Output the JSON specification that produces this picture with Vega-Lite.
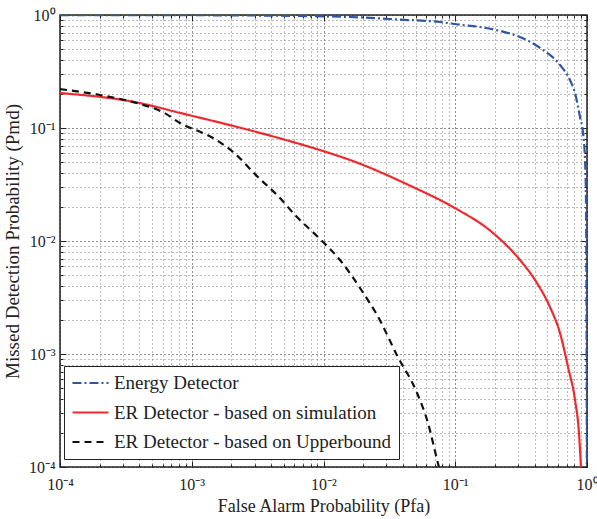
{
  "$schema": "https://vega.github.io/schema/vega-lite/v6.json",
  "width": 527,
  "height": 452,
  "autosize": {"type": "none"},
  "padding": {"left": 60, "top": 15, "right": 10, "bottom": 52},
  "background": "white",
  "config": {
    "view": {"stroke": "#222", "strokeWidth": 1.5},
    "font": "Liberation Serif"
  },
  "data": {
    "values": [
      {"series": "Energy Detector", "x": 0.0001, "y": 0.999},
      {"series": "Energy Detector", "x": 0.00116, "y": 0.995},
      {"series": "Energy Detector", "x": 0.00664, "y": 0.98},
      {"series": "Energy Detector", "x": 0.0159, "y": 0.96},
      {"series": "Energy Detector", "x": 0.0381, "y": 0.91},
      {"series": "Energy Detector", "x": 0.0766, "y": 0.867},
      {"series": "Energy Detector", "x": 0.1086, "y": 0.82},
      {"series": "Energy Detector", "x": 0.154, "y": 0.783},
      {"series": "Energy Detector", "x": 0.219, "y": 0.722},
      {"series": "Energy Detector", "x": 0.31, "y": 0.639},
      {"series": "Energy Detector", "x": 0.44, "y": 0.511},
      {"series": "Energy Detector", "x": 0.624, "y": 0.361},
      {"series": "Energy Detector", "x": 0.743, "y": 0.266},
      {"series": "Energy Detector", "x": 0.811, "y": 0.204},
      {"series": "Energy Detector", "x": 0.885, "y": 0.125},
      {"series": "Energy Detector", "x": 0.933, "y": 0.0903},
      {"series": "Energy Detector", "x": 0.966, "y": 0.0521},
      {"series": "Energy Detector", "x": 0.983, "y": 0.0231},
      {"series": "Energy Detector", "x": 0.991, "y": 0.003},
      {"series": "Energy Detector", "x": 0.998, "y": 0.0001},
      {"series": "ER Detector - based on simulation", "x": 0.0001, "y": 0.204},
      {"series": "ER Detector - based on simulation", "x": 0.000405, "y": 0.166},
      {"series": "ER Detector - based on simulation", "x": 0.000815, "y": 0.136},
      {"series": "ER Detector - based on simulation", "x": 0.00195, "y": 0.106},
      {"series": "ER Detector - based on simulation", "x": 0.00467, "y": 0.081},
      {"series": "ER Detector - based on simulation", "x": 0.0094, "y": 0.0638},
      {"series": "ER Detector - based on simulation", "x": 0.0159, "y": 0.0521},
      {"series": "ER Detector - based on simulation", "x": 0.0478, "y": 0.03},
      {"series": "ER Detector - based on simulation", "x": 0.0961, "y": 0.02},
      {"series": "ER Detector - based on simulation", "x": 0.193, "y": 0.0118},
      {"series": "ER Detector - based on simulation", "x": 0.31, "y": 0.00679},
      {"series": "ER Detector - based on simulation", "x": 0.417, "y": 0.00425},
      {"series": "ER Detector - based on simulation", "x": 0.523, "y": 0.00261},
      {"series": "ER Detector - based on simulation", "x": 0.624, "y": 0.00153},
      {"series": "ER Detector - based on simulation", "x": 0.718, "y": 0.000767},
      {"series": "ER Detector - based on simulation", "x": 0.811, "y": 0.000392},
      {"series": "ER Detector - based on simulation", "x": 0.869, "y": 0.0002},
      {"series": "ER Detector - based on simulation", "x": 0.9, "y": 0.0001},
      {"series": "ER Detector - based on Upperbound", "x": 0.0001, "y": 0.221},
      {"series": "ER Detector - based on Upperbound", "x": 0.000201, "y": 0.196},
      {"series": "ER Detector - based on Upperbound", "x": 0.000405, "y": 0.163},
      {"series": "ER Detector - based on Upperbound", "x": 0.000605, "y": 0.138},
      {"series": "ER Detector - based on Upperbound", "x": 0.000815, "y": 0.1107},
      {"series": "ER Detector - based on Upperbound", "x": 0.00145, "y": 0.0816},
      {"series": "ER Detector - based on Upperbound", "x": 0.00206, "y": 0.0613},
      {"series": "ER Detector - based on Upperbound", "x": 0.00318, "y": 0.0368},
      {"series": "ER Detector - based on Upperbound", "x": 0.00444, "y": 0.0255},
      {"series": "ER Detector - based on Upperbound", "x": 0.00629, "y": 0.0163},
      {"series": "ER Detector - based on Upperbound", "x": 0.00908, "y": 0.01084},
      {"series": "ER Detector - based on Upperbound", "x": 0.01334, "y": 0.00679},
      {"series": "ER Detector - based on Upperbound", "x": 0.0196, "y": 0.00361},
      {"series": "ER Detector - based on Upperbound", "x": 0.0255, "y": 0.00221},
      {"series": "ER Detector - based on Upperbound", "x": 0.0367, "y": 0.00094},
      {"series": "ER Detector - based on Upperbound", "x": 0.0513, "y": 0.000452},
      {"series": "ER Detector - based on Upperbound", "x": 0.0621, "y": 0.000245},
      {"series": "ER Detector - based on Upperbound", "x": 0.0739, "y": 0.000108},
      {"series": "ER Detector - based on Upperbound", "x": 0.0752, "y": 0.0001}
    ]
  },
  "resolve": {"axis": {"x": "independent", "y": "independent"}},
  "layer": [
    {
      "mark": {"type": "line", "strokeWidth": 2.2, "clip": true, "interpolate": "monotone"},
      "encoding": {
        "x": {
          "field": "x", "type": "quantitative",
          "scale": {"type": "log", "domain": [0.0001, 1], "nice": false},
          "axis": {
            "orient": "bottom",
            "title": "False Alarm Probability (Pfa)",
            "titleFont": "Liberation Serif", "titleFontSize": 18, "titleFontWeight": "normal", "titleColor": "#222",
            "titlePadding": 2,
            "values": [0.0001,0.0002,0.0003,0.0004,0.0005,0.0006,0.0007,0.0008,0.0009,0.001,0.002,0.003,0.004,0.005,0.006,0.007,0.008,0.009,0.01,0.02,0.03,0.04,0.05,0.06,0.07,0.08,0.09,0.1,0.2,0.3,0.4,0.5,0.6,0.7,0.8,0.9,1],
            "labelExpr": "abs(log(datum.value)/LN10 - round(log(datum.value)/LN10)) < 0.000001 ? ('10' + ['⁰','⁻¹','⁻²','⁻³','⁻⁴'][-round(log(datum.value)/LN10)]) : ''",
            "labelFont": "Liberation Serif", "labelFontSize": 16, "labelColor": "#222",
            "labelPadding": 15, "labelFlush": false, "labelOverlap": false,
            "grid": true,
            "gridDash": [1, 3],
            "gridColor": {"condition": {"test": "abs(log(datum.value)/LN10 - round(log(datum.value)/LN10)) < 0.000001", "value": "#222"}, "value": "#777"},
            "gridWidth": 1,
            "ticks": true,
            "tickColor": "#222",
            "tickSize": {"condition": {"test": "abs(log(datum.value)/LN10 - round(log(datum.value)/LN10)) < 0.000001", "value": -6}, "value": -3},
            "domain": false
          }
        },
        "y": {
          "field": "y", "type": "quantitative",
          "scale": {"type": "log", "domain": [0.0001, 1], "nice": false},
          "axis": {
            "orient": "left",
            "title": "Missed Detection Probability (Pmd)",
            "titleFont": "Liberation Serif", "titleFontSize": 19, "titleFontWeight": "normal", "titleColor": "#222",
            "titlePadding": 6,
            "values": [0.0001,0.0002,0.0003,0.0004,0.0005,0.0006,0.0007,0.0008,0.0009,0.001,0.002,0.003,0.004,0.005,0.006,0.007,0.008,0.009,0.01,0.02,0.03,0.04,0.05,0.06,0.07,0.08,0.09,0.1,0.2,0.3,0.4,0.5,0.6,0.7,0.8,0.9,1],
            "labelExpr": "abs(log(datum.value)/LN10 - round(log(datum.value)/LN10)) < 0.000001 ? ('10' + ['⁰','⁻¹','⁻²','⁻³','⁻⁴'][-round(log(datum.value)/LN10)]) : ''",
            "labelFont": "Liberation Serif", "labelFontSize": 16, "labelColor": "#222",
            "labelPadding": 11, "labelFlush": false, "labelOverlap": false,
            "grid": true,
            "gridDash": [1, 3],
            "gridColor": {"condition": {"test": "abs(log(datum.value)/LN10 - round(log(datum.value)/LN10)) < 0.000001", "value": "#222"}, "value": "#777"},
            "gridWidth": 1,
            "ticks": true,
            "tickColor": "#222",
            "tickSize": {"condition": {"test": "abs(log(datum.value)/LN10 - round(log(datum.value)/LN10)) < 0.000001", "value": -6}, "value": -3},
            "domain": false
          }
        },
        "color": {
          "field": "series", "type": "nominal",
          "scale": {
            "domain": ["Energy Detector", "ER Detector - based on simulation", "ER Detector - based on Upperbound"],
            "range": ["#2f55a8", "#ee2a2e", "#111111"]
          },
          "legend": {
            "title": null,
            "orient": "none",
            "legendX": 4,
            "legendY": 351,
            "fillColor": "white",
            "strokeColor": "#222",
            "padding": 7,
            "symbolType": "stroke",
            "symbolSize": 1296,
            "symbolStrokeWidth": 2.2,
            "clipHeight": 20,
            "labelFont": "Liberation Serif",
            "labelFontSize": 19,
            "labelColor": "#222",
            "labelLimit": 400,
            "labelOffset": 4,
            "rowPadding": 9.5
          }
        },
        "strokeDash": {
          "field": "series", "type": "nominal",
          "scale": {
            "domain": ["Energy Detector", "ER Detector - based on simulation", "ER Detector - based on Upperbound"],
            "range": [[9, 3, 2, 3], [1, 0], [7, 5]]
          },
          "legend": {
            "title": null,
            "orient": "none",
            "legendX": 4,
            "legendY": 351,
            "fillColor": "white",
            "strokeColor": "#222",
            "padding": 7,
            "symbolType": "stroke",
            "symbolSize": 1296,
            "symbolStrokeWidth": 2.2,
            "clipHeight": 20,
            "labelFont": "Liberation Serif",
            "labelFontSize": 19,
            "labelColor": "#222",
            "labelLimit": 400,
            "labelOffset": 4,
            "rowPadding": 9.5
          }
        }
      }
    },
    {
      "mark": {"type": "line", "strokeOpacity": 0, "clip": true},
      "encoding": {
        "x": {
          "field": "x", "type": "quantitative",
          "scale": {"type": "log", "domain": [0.0001, 1], "nice": false},
          "axis": {
            "orient": "top", "title": null, "labels": false, "grid": false, "domain": false,
            "values": [0.0001,0.0002,0.0003,0.0004,0.0005,0.0006,0.0007,0.0008,0.0009,0.001,0.002,0.003,0.004,0.005,0.006,0.007,0.008,0.009,0.01,0.02,0.03,0.04,0.05,0.06,0.07,0.08,0.09,0.1,0.2,0.3,0.4,0.5,0.6,0.7,0.8,0.9,1],
            "tickColor": "#222",
            "tickSize": {"condition": {"test": "abs(log(datum.value)/LN10 - round(log(datum.value)/LN10)) < 0.000001", "value": -6}, "value": -3}
          }
        },
        "y": {
          "field": "y", "type": "quantitative",
          "scale": {"type": "log", "domain": [0.0001, 1], "nice": false},
          "axis": {
            "orient": "right", "title": null, "labels": false, "grid": false, "domain": false,
            "values": [0.0001,0.0002,0.0003,0.0004,0.0005,0.0006,0.0007,0.0008,0.0009,0.001,0.002,0.003,0.004,0.005,0.006,0.007,0.008,0.009,0.01,0.02,0.03,0.04,0.05,0.06,0.07,0.08,0.09,0.1,0.2,0.3,0.4,0.5,0.6,0.7,0.8,0.9,1],
            "tickColor": "#222",
            "tickSize": {"condition": {"test": "abs(log(datum.value)/LN10 - round(log(datum.value)/LN10)) < 0.000001", "value": -6}, "value": -3}
          }
        },
        "detail": {"field": "series", "type": "nominal"}
      }
    }
  ]
}
